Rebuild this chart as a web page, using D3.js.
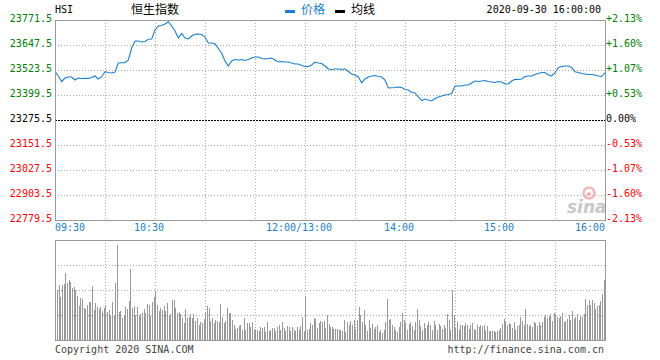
<!DOCTYPE html>
<html><head><meta charset="utf-8">
<script src="https://cdn.jsdelivr.net/npm/d3@7"></script>
<style>
body{margin:0;background:#fff;}
svg{display:block;}
text{font-family:"DejaVu Sans Mono",monospace;font-size:10px;}
</style></head>
<body>
<svg id="c" width="660" height="360"></svg>
<script>
// ---------- data ----------
const symbol = "HSI";
const title = "恒生指数";
const stamp = "2020-09-30 16:00:00";
const legendNames = ["价格", "均线"];
const priceTicks = [23771.5, 23647.5, 23523.5, 23399.5, 23275.5, 23151.5, 23027.5, 22903.5, 22779.5];
const pctLabels = ["+2.13%", "+1.60%", "+1.07%", "+0.53%", "0.00%", "-0.53%", "-1.07%", "-1.60%", "-2.13%"];
const timeLabels = ["09:30", "10:30", "12:00/13:00", "14:00", "15:00", "16:00"];
const timeMinutes = [0, 60, 150, 210, 270, 330];
const prevClose = 23275.5;
// price sampled every 2 minutes of trading (0..330)
const prices = [
23515.1,23493.7,23466.5,23483.8,23488.8,23488.8,23473.9,23483.8,23481.3,23482.3,
23481.3,23486.3,23493.7,23478.9,23490.3,23515.1,23511.1,23508.6,23513.6,23558.2,
23559.7,23559.7,23573.1,23632.6,23667.3,23667.3,23662.4,23664.9,23675.8,23677.3,
23721.9,23741.7,23744.2,23751.7,23763.1,23741.7,23716.9,23682.2,23704.5,23682.2,
23677.3,23692.1,23700.6,23702.1,23699.6,23687.2,23657.4,23657.4,23652.5,23630.1,
23606.3,23568.1,23543.3,23568.1,23575.6,23573.1,23575.6,23570.6,23575.6,23583.0,
23588.0,23588.0,23580.5,23578.1,23580.5,23583.0,23573.1,23563.2,23565.7,23563.2,
23563.2,23558.2,23553.3,23553.3,23545.8,23540.9,23540.9,23548.3,23563.2,23558.2,
23555.7,23543.3,23528.5,23526.0,23528.5,23528.5,23526.0,23528.5,23516.1,23503.7,
23498.7,23488.8,23460.5,23478.9,23488.8,23493.7,23496.2,23491.3,23488.8,23473.9,
23434.2,23435.7,23436.7,23439.2,23436.7,23426.8,23424.3,23411.9,23409.4,23389.6,
23372.2,23379.7,23374.7,23369.7,23382.1,23389.6,23394.5,23399.5,23402.0,23406.9,
23444.1,23444.1,23444.1,23449.1,23449.1,23459.0,23468.9,23466.5,23468.9,23471.4,
23466.5,23464.0,23461.5,23466.5,23464.0,23454.1,23454.1,23468.9,23477.4,23476.4,
23478.9,23491.3,23493.7,23493.7,23501.2,23506.1,23511.1,23511.1,23498.7,23493.7,
23508.6,23535.9,23540.9,23543.3,23543.3,23535.9,23515.1,23511.1,23506.1,23503.7,
23501.2,23501.2,23498.7,23493.7,23491.3,23510.1
];
// per-minute volume (relative units, panel max = 100)
const volumes = [
51,50,55,43,55,56,67,57,60,58,52,53,50,44,34,42,41,32,31,35,
38,38,54,30,37,33,31,33,29,32,35,28,30,25,38,25,57,95,28,29,
22,25,33,31,39,71,32,34,25,33,24,26,27,31,27,36,35,24,38,43,
48,35,29,32,30,
34,29,37,25,26,40,40,32,27,28,26,22,17,31,22,23,26,22,26,19,
22,15,18,17,21,28,34,32,19,22,17,20,19,18,36,23,17,19,32,27,
27,20,15,11,12,14,15,10,22,10,17,17,13,18,10,11,10,9,13,12,
13,8,18,9,10,12,
12,9,13,15,10,18,12,9,14,13,9,13,10,9,13,10,14,23,9,44,
10,11,17,15,22,21,12,17,19,18,19,12,25,
16,13,13,11,11,11,10,10,9,20,8,18,15,19,15,20,11,20,33,25,
18,30,15,9,20,12,16,11,13,15,8,10,7,10,18,41,20,21,15,13,
10,8,13,18,27,20,17,10,16,18,14,10,18,31,20,14,10,17,12,15,
18,15,10,19,15,10,16,14,11,15,12,26,20,10,50,25,12,18,10,15,
15,14,17,15,11,15,17,11,10,15,13,15,14,15,10,14,9,9,9,9,
8,9,10,12,16,21,18,15,17,16,12,18,10,14,15,23,19,15,31,16,
14,15,13,18,17,14,18,15,18,23,25,22,24,26,19,27,26,23,22,24,
27,18,19,21,25,20,29,21,23,26,20,24,23,26,41,35,40,35,40,37,
31,34,35,39,46,60
];

// ---------- drawing ----------
const svg = d3.select("#c");
const L = 55, R = 605, T = 20, B = 220, VT = 240, VB = 340;
const blue = "#1a7fd0", green = "#008000", red = "#ff0000", gray = "#999";

const x = d3.scaleLinear().domain([0, 330]).range([L, R]);
const y = d3.scaleLinear().domain([22779.5, 23771.5]).range([B, T]);
const yv = d3.scaleLinear().domain([0, 100]).range([VB, VT]);

const colorOf = (v) => v > prevClose ? green : (v < prevClose ? red : "#000");

// grid - main
const gridMinutes = d3.range(30, 330, 30);
const g = svg.append("g").attr("shape-rendering", "crispEdges");
g.selectAll(".vg").data(gridMinutes).join("line")
  .attr("x1", d => Math.round(x(d)) + 0.5).attr("x2", d => Math.round(x(d)) + 0.5)
  .attr("y1", T).attr("y2", B)
  .attr("stroke", "#aaa").attr("stroke-dasharray", "1,2");
g.selectAll(".hg").data(priceTicks.filter(d => d !== prevClose && d !== priceTicks[0] && d !== priceTicks[8])).join("line")
  .attr("x1", L).attr("x2", R)
  .attr("y1", d => Math.round(y(d)) + 0.5).attr("y2", d => Math.round(y(d)) + 0.5)
  .attr("stroke", "#aaa").attr("stroke-dasharray", "1,2");
g.append("line").attr("x1", L).attr("x2", R)
  .attr("y1", Math.round(y(prevClose)) + 0.5).attr("y2", Math.round(y(prevClose)) + 0.5)
  .attr("stroke", "#000").attr("stroke-dasharray", "2,1");

// grid - volume
const vTicks = [25, 50, 75];
g.selectAll(".vvg").data(gridMinutes).join("line")
  .attr("x1", d => Math.round(x(d)) + 0.5).attr("x2", d => Math.round(x(d)) + 0.5)
  .attr("y1", VT).attr("y2", VB)
  .attr("stroke", "#aaa").attr("stroke-dasharray", "1,2");
g.selectAll(".vhg").data(vTicks).join("line")
  .attr("x1", L).attr("x2", R)
  .attr("y1", d => Math.round(yv(d)) + 0.5).attr("y2", d => Math.round(yv(d)) + 0.5)
  .attr("stroke", "#aaa").attr("stroke-dasharray", "1,2");

// volume bars
svg.append("g").attr("shape-rendering", "crispEdges")
  .selectAll("rect").data(volumes).join("rect")
  .attr("x", (d, i) => Math.floor(x(i + 1)) - 1)
  .attr("width", 1)
  .attr("y", d => yv(d))
  .attr("height", d => VB - yv(d))
  .attr("fill", gray);

// watermark
const wm = svg.append("g");
wm.append("circle").attr("cx", 589).attr("cy", 193).attr("r", 5.5)
  .attr("fill", "none").attr("stroke", "#f4b5b5").attr("stroke-width", 2.5);
wm.append("circle").attr("cx", 589).attr("cy", 194).attr("r", 1.8).attr("fill", "#f0a0a0");
wm.append("text").attr("x", 567).attr("y", 213)
  .style("font-family", "DejaVu Sans, sans-serif").style("font-size", "17px")
  .style("font-weight", "bold").style("font-style", "italic")
  .attr("fill", "#c8c8c8").text("sina");

// price line
const line = d3.line().x((d, i) => x(i * 2)).y(d => y(d));
svg.append("path").datum(prices)
  .attr("d", line).attr("fill", "none")
  .attr("stroke", blue).attr("stroke-width", 1.1);

// frames
const fr = svg.append("g").attr("shape-rendering", "crispEdges")
  .attr("fill", "none").attr("stroke", gray);
fr.append("rect").attr("x", L + 0.5).attr("y", T + 0.5).attr("width", R - L).attr("height", B - T);
fr.append("rect").attr("x", L + 0.5).attr("y", VT + 0.5).attr("width", R - L).attr("height", VB - VT);

// left axis labels
const axL = svg.append("g").attr("transform", `translate(${L - 3},1)`)
  .call(d3.axisLeft(y).tickValues(priceTicks).tickSize(0).tickPadding(0).tickFormat(d => d.toFixed(1)));
axL.select(".domain").remove();
axL.selectAll("text").attr("dy", 0)
  .style("font-family", "DejaVu Sans Mono, monospace").style("font-size", "10px")
  .attr("fill", d => colorOf(d));

// right axis labels
const axR = svg.append("g").attr("transform", `translate(${R + 1},1)`)
  .call(d3.axisRight(y).tickValues(priceTicks).tickSize(0).tickPadding(0).tickFormat((d, i) => pctLabels[i]));
axR.select(".domain").remove();
axR.selectAll("text").attr("dy", 0)
  .style("font-family", "DejaVu Sans Mono, monospace").style("font-size", "10px")
  .attr("fill", d => colorOf(d));

// time labels
svg.append("g").selectAll("text").data(timeLabels).join("text")
  .attr("x", (d, i) => i === 0 ? L : (i === timeLabels.length - 1 ? R : x(timeMinutes[i]) - 6))
  .attr("y", 231)
  .attr("text-anchor", (d, i) => i === 0 ? "start" : (i === timeLabels.length - 1 ? "end" : "middle"))
  .attr("fill", "#1a7fd0").text(d => d);

// header
svg.append("text").attr("x", L).attr("y", 13).attr("fill", "#000").text(symbol);
svg.append("text").attr("x", 131).attr("y", 14)
  .style("font-family", "'Noto Sans CJK SC', sans-serif").style("font-size", "12px")
  .attr("fill", "#000").text(title);
svg.append("rect").attr("x", 285).attr("y", 10).attr("width", 10).attr("height", 3).attr("fill", blue);
svg.append("text").attr("x", 301).attr("y", 14)
  .style("font-family", "'Noto Sans CJK SC', sans-serif").style("font-size", "12px")
  .attr("fill", blue).text(legendNames[0]);
svg.append("rect").attr("x", 335).attr("y", 10).attr("width", 10).attr("height", 3).attr("fill", "#000");
svg.append("text").attr("x", 351).attr("y", 14)
  .style("font-family", "'Noto Sans CJK SC', sans-serif").style("font-size", "12px")
  .attr("fill", "#000").text(legendNames[1]);
svg.append("text").attr("x", 601).attr("y", 13).attr("text-anchor", "end").attr("fill", "#000").text(stamp);

// footer
svg.append("text").attr("x", L).attr("y", 353).attr("fill", "#444").text("Copyright 2020 SINA.COM");
svg.append("text").attr("x", 604).attr("y", 353).attr("text-anchor", "end").attr("fill", "#444").text("http://finance.sina.com.cn");
</script>
</body></html>
